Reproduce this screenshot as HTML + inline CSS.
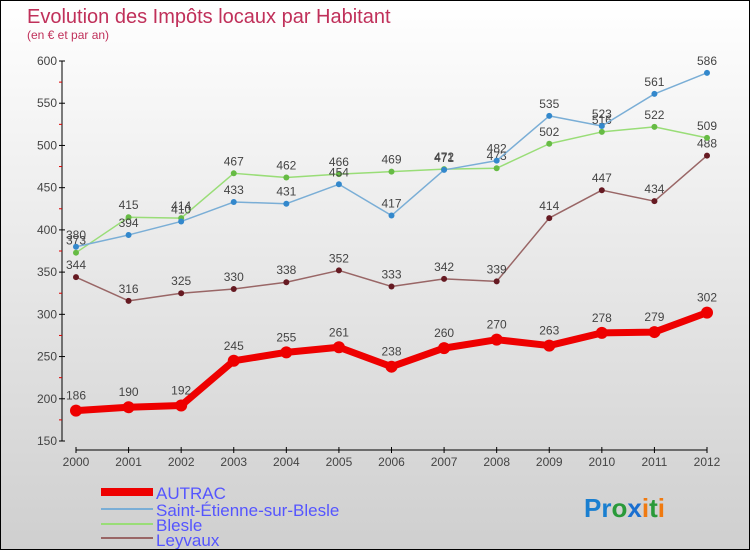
<!DOCTYPE html>
<html><head><meta charset="utf-8"><style>
body{margin:0}
#c{width:748px;height:548px;border:1px solid #000;background:linear-gradient(#fff,#cfcfcf);position:relative;overflow:hidden;font-family:"Liberation Sans",sans-serif}
</style></head><body>
<div id="c">
<svg id="s" width="748" height="548" style="position:absolute;left:0;top:0">
<text x="26" y="22" font-size="20" fill="#c0305a">Evolution des Impôts locaux par Habitant</text>
<text x="26" y="38" font-size="12" fill="#c0305a">(en € et par an)</text>
<g id="axes"></g><g id="series"></g>
<g>
<rect x="100" y="487" width="52" height="8" fill="#e00"/>
<text x="155" y="498" font-size="17" fill="#55f">AUTRAC</text>
<rect x="100" y="507" width="52" height="2" fill="#7aaed6"/>
<text x="155" y="515" font-size="17" fill="#55f">Saint-Étienne-sur-Blesle</text>
<rect x="100" y="522" width="52" height="2" fill="#99dd77"/>
<text x="155" y="530" font-size="17" fill="#55f">Blesle</text>
<rect x="100" y="536" width="52" height="2" fill="#996666"/>
<text x="155" y="545" font-size="17" fill="#55f">Leyvaux</text>
</g>
<text x="583" y="516" font-size="26" font-weight="bold"><tspan fill="#1a7fd0">Pr</tspan><tspan fill="#2a9a3a">o</tspan><tspan fill="#1a6fd0">x</tspan><tspan fill="#f07a10">i</tspan><tspan fill="#2a9a3a">t</tspan><tspan fill="#f07a10">i</tspan></text>
</svg>
</div>
<script>
const years=[2000,2001,2002,2003,2004,2005,2006,2007,2008,2009,2010,2011,2012];
const autrac=[186,190,192,245,255,261,238,260,270,263,278,279,302];
const stEtienne=[380,394,410,433,431,454,417,471,482,535,523,561,586];
const blesle=[373,415,414,467,462,466,469,472,473,502,516,522,509];
const leyvaux=[344,316,325,330,338,352,333,342,339,414,447,434,488];
const yTicks=[150,200,250,300,350,400,450,500,550,600];
const NS="http://www.w3.org/2000/svg";
function X(i){return 75+i*(706-75)/(years.length-1);}
function Y(v){return 60+(600-v)*380/450;}
function mk(tag,attrs,parent,txt){const e=document.createElementNS(NS,tag);for(const k in attrs)e.setAttribute(k,attrs[k]);if(txt!==undefined)e.textContent=txt;parent.appendChild(e);return e;}
const ax=document.getElementById('axes');
let e=mk('line',{x1:61,y1:Y(600),x2:61,y2:Y(150),stroke:'#000'},ax);


yTicks.forEach(v=>{
 mk('line',{x1:58,y1:Y(v),x2:64,y2:Y(v),stroke:'#000'},ax);
 const t=mk('text',{x:56,y:Y(v)+4,'font-size':12,fill:'#444','text-anchor':'end'},ax,v);
 
 
 if(v<600)mk('line',{x1:58,y1:Y(v+25),x2:61,y2:Y(v+25),stroke:'#d00'},ax);
});
e=mk('line',{x1:X(0),y1:449,x2:X(12),y2:449,stroke:'#000'},ax);


years.forEach((yr,i)=>{
 mk('line',{x1:X(i),y1:446,x2:X(i),y2:452,stroke:'#000'},ax);
 const t=mk('text',{x:X(i),y:465,'font-size':12,fill:'#444','text-anchor':'middle'},ax,yr);
 
 
});
const sg=document.getElementById('series');
function drawSeries(vals,color,dot,w,r,name){
 const g=mk('g',{},sg);
 
 
 mk('polyline',{points:vals.map((v,i)=>X(i)+','+Y(v)).join(' '),fill:'none',stroke:color,'stroke-width':w,'stroke-linejoin':'round'},g);
 vals.forEach((v,i)=>{
  const c=mk('circle',{cx:X(i),cy:Y(v),r:r,fill:dot},g);
  
  
  const t=mk('text',{x:X(i),y:Y(v)-(r+5),'font-size':12,fill:'#444','text-anchor':'middle'},g,v);
  
  
 });
}
drawSeries(leyvaux,'#996666','#661a22',1.5,3,'leyvaux');
drawSeries(blesle,'#99dd77','#66bb44',1.5,3,'blesle');
drawSeries(stEtienne,'#7aaed6','#3388cc',1.5,3,'saint-etienne');
drawSeries(autrac,'#ee0000','#ee0000',7,6,'autrac');
</script>
</body></html>
